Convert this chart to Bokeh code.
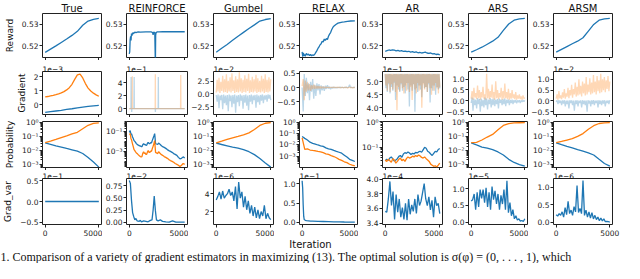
import numpy as np
from bokeh.plotting import figure
from bokeh.layouts import gridplot, column
from bokeh.models import Range1d, FixedTicker, Label
from bokeh.embed import file_html
from bokeh.resources import INLINE

BLUE = "#1f77b4"
ORANGE = "#ff7f0e"
FONT = "DejaVu Sans"

METHODS = ["True", "REINFORCE", "Gumbel", "RELAX", "AR", "ARS", "ARSM"]
ROW_LABELS = ["Reward", "Gradient", "Probability", "Grad_var"]
X_TICKS = [0, 5000]
X_TICK_LABELS = ["0", "5000"]

# ---------------- Row 1: reward ----------------
TRUE_REWARD = [0.5170, 0.5185, 0.5200, 0.5216, 0.5232, 0.5249, 0.5268, 0.5296, 0.5316, 0.5324, 0.5328]
REINF_REWARD_X = [0, 40, 80, 120, 160, 200, 250, 300, 350, 400, 450, 500, 600, 800, 1000, 1500, 2000, 2100,
                  2150, 2200, 2300, 2340, 2360, 2380, 2420, 2500, 2700, 3000, 4000, 5000]
REINF_REWARD_Y = [0.5163, 0.5172, 0.5230, 0.5245, 0.5225, 0.5258, 0.5248, 0.5262, 0.5255, 0.5263, 0.5259, 0.5264,
                  0.5262, 0.5265, 0.5264, 0.5265, 0.5265, 0.5262, 0.5252, 0.5264, 0.5262, 0.5150, 0.5140, 0.5250,
                  0.5262, 0.5265, 0.5265, 0.5266, 0.5266, 0.5266]
GUMBEL_REWARD = [0.5170, 0.5189, 0.5207, 0.5226, 0.5245, 0.5263, 0.5281, 0.5298, 0.5316, 0.5323, 0.5327]
RELAX_REWARD_X = [0, 60, 120, 180, 240, 300, 400, 500, 600, 700, 800, 900, 1000, 1100, 1200, 1300, 1400, 1500,
                  1600, 1700, 1800, 1900, 2000, 2100, 2200, 2300, 2400, 2500, 2600, 2700, 2800, 2900, 3000, 3200,
                  3400, 3600, 3800, 4000, 4300, 4600, 5000]
RELAX_REWARD_Y = [0.5172, 0.5150, 0.5168, 0.5155, 0.5160, 0.5152, 0.5165, 0.5158, 0.5162, 0.5155, 0.5160, 0.5154,
                  0.5158, 0.5156, 0.5162, 0.5170, 0.5178, 0.5188, 0.5195, 0.5205, 0.5210, 0.5222, 0.5218, 0.5232,
                  0.5226, 0.5234, 0.5230, 0.5245, 0.5255, 0.5262, 0.5275, 0.5285, 0.5292, 0.5300, 0.5306, 0.5309,
                  0.5311, 0.5312, 0.5314, 0.5316, 0.5317]
AR_REWARD = [0.5175, 0.5178, 0.5181, 0.5179, 0.5182, 0.5180, 0.5177, 0.5179, 0.5176, 0.5178, 0.5174, 0.5176,
             0.5173, 0.5175, 0.5171, 0.5173, 0.5170, 0.5172, 0.5168, 0.5170, 0.5167, 0.5169, 0.5171, 0.5167,
             0.5165, 0.5167, 0.5163, 0.5164, 0.5160, 0.5162, 0.5158]
ARS_REWARD = [0.5171, 0.5182, 0.5194, 0.5208, 0.5222, 0.5240, 0.5272, 0.5302, 0.5320, 0.5326, 0.5328]
ARSM_REWARD = [0.5171, 0.5184, 0.5197, 0.5210, 0.5222, 0.5238, 0.5269, 0.5300, 0.5320, 0.5326, 0.5328]

# ---------------- Row 2: gradient ----------------
TRUE_GRAD_BLUE = [-0.55, -0.50, -0.45, -0.40, -0.34, -0.29, -0.23, -0.17, -0.12, -0.08, -0.05]
TRUE_GRAD_ORANGE = [0.55, 0.58, 0.62, 0.66, 0.71, 0.77, 0.84, 0.93, 1.05, 1.21, 1.45, 1.80, 2.12, 2.18, 1.90,
                    1.50, 1.18, 0.97, 0.82, 0.70, 0.60]
REINF_GRAD_BLUE_X = [0, 150, 165, 180, 205, 220, 235, 425, 440, 455, 2340, 2355, 2370, 2605, 2620, 2635, 5000]
REINF_GRAD_BLUE_Y = [0, 0, 4.9, 0, 0, -0.5, 0, 0, 4.9, 0, 0, -0.5, 0, 0, 4.9, 0, 0]
REINF_GRAD_ORANGE_X = [0, 260, 275, 290, 2335, 2350, 2365, 4625, 4640, 4655, 5000]
REINF_GRAD_ORANGE_Y = [0, 0, 5.0, 0, 0, 5.3, 0, 0, 5.2, 0, 0]
GUMBEL_GRAD_BLUE = [-0.2, -1.5, -0.1, -2.8, -0.3, -1.2, -0.2, -3.0, -0.1, -1.8, -0.3, -2.2, -0.2, -3.4, -0.1,
                    -1.4, -0.3, -2.6, -0.2, -1.9, -0.1, -3.7, -0.3, -1.6, -0.2, -2.4, -0.1, -1.3, -0.3, -2.9,
                    -0.2, -1.7, -0.1, -2.3, -0.3, -3.2, -0.2, -1.5, -0.1, -2.0, -0.3, -1.2, -0.2, -2.7, -0.1,
                    -1.6, -0.3, -2.1, -0.2, -1.3, -0.1, -1.8, -0.3, -1.1, -0.2, -1.5, -0.1, -0.9, -0.2, -1.2]
GUMBEL_GRAD_ORANGE = [0.3, 2.8, 0.5, 3.2, 0.2, 2.4, 0.6, 3.6, 0.3, 2.9, 0.4, 3.9, 0.2, 2.6, 0.5, 3.3, 0.3, 4.1,
                      0.6, 2.7, 0.2, 3.5, 0.4, 2.9, 0.3, 4.3, 0.5, 3.1, 0.2, 2.8, 0.4, 3.7, 0.3, 3.0, 0.6, 4.0,
                      0.2, 2.7, 0.4, 3.4, 0.3, 2.9, 0.5, 3.8, 0.2, 3.1, 0.4, 2.6, 0.3, 3.6, 0.5, 3.0, 0.2, 3.9,
                      0.4, 2.8, 0.3, 3.3, 0.5, 2.9]
RELAX_GRAD_BLUE = [0.0, -0.85, 0.48, -0.30, 0.35, -0.20, 0.15, -0.45, 0.20, -0.15, 0.30, -0.40, 0.10, -0.30,
                   0.15, -0.10, 0.12, -0.25, 0.08, -0.10, 0.05, -0.12, 0.06, -0.05, 0.08, -0.04, 0.03, -0.06,
                   0.02, -0.03, 0.02, -0.02, 0.01, -0.02, 0.01, -0.01, 0.02, -0.01, 0.01, -0.01, 0.01, -0.01,
                   0.02, -0.01, 0.01, 0.10, -0.01, 0.01, -0.01, 0.01, 0.0]
RELAX_GRAD_ORANGE = [0.05, 0.30, -0.45, 0.25, -0.15, 0.20, -0.10, 0.12, -0.12, 0.08, -0.06, 0.10, -0.05, 0.06,
                     -0.04, 0.05, -0.03, 0.04, -0.03, 0.03, -0.02, 0.02, -0.02, 0.02, -0.01, 0.01, -0.01, 0.01,
                     -0.01, 0.01, 0.0, 0.01, -0.01, 0.01, 0.0, 0.01, -0.01, 0.0, 0.01, -0.01, 0.0, 0.01, 0.0,
                     -0.01, 0.0, 0.01, 0.0, 0.0, -0.01, 0.0, 0.0]
AR_GRAD_BLUE = [5.30, 4.75, 5.28, 4.60, 5.30, 4.90, 5.29, 4.55, 5.30, 4.80, 5.27, 4.65, 5.30, 4.95, 5.29, 4.30,
                5.30, 4.85, 5.28, 4.70, 5.30, 4.60, 5.29, 4.90, 5.30, 4.65, 5.28, 4.80, 5.30, 4.55, 5.29, 4.95,
                5.30, 4.70, 5.28, 4.05, 5.30, 4.85, 5.29, 4.65, 5.30, 4.90, 5.28, 3.85, 5.30, 4.75, 5.29, 4.60,
                5.30, 4.85, 5.28, 4.70, 5.30, 4.40, 5.29, 4.95, 5.30, 4.75, 5.28, 4.80, 5.30, 4.60, 5.29, 4.90,
                5.30, 4.20, 5.28, 4.75, 5.30, 4.65, 5.29, 4.85, 5.30, 4.50, 5.28, 4.80, 5.30, 4.70, 5.29, 4.75]
AR_GRAD_ORANGE = [5.29, 4.85, 5.30, 4.65, 5.28, 4.95, 5.30, 4.60, 5.29, 4.90, 5.30, 4.70, 5.28, 5.00, 5.30, 4.60,
                  5.29, 3.90, 5.30, 4.80, 5.28, 4.65, 5.30, 4.95, 5.29, 4.75, 5.30, 4.55, 5.28, 4.85, 5.30, 4.65,
                  5.29, 4.95, 5.30, 4.60, 5.28, 4.80, 5.30, 4.30, 5.29, 4.90, 5.30, 4.70, 5.28, 4.55, 5.30, 4.95,
                  5.29, 4.65, 5.30, 4.85, 5.28, 4.00, 5.30, 4.90, 5.29, 4.70, 5.30, 4.80, 5.28, 4.60, 5.30, 4.95,
                  5.29, 4.75, 5.30, 4.50, 5.28, 4.85, 5.30, 4.65, 5.29, 4.95, 5.30, 4.75, 5.28, 4.55, 5.30, 4.80]
ARS_GRAD_BLUE = [-0.10, 0.15, -0.45, 0.10, -0.20, 0.05, -0.35, 0.12, -0.15, 0.08, -0.50, 0.10, -0.25, 0.05,
                 -0.30, 0.15, -0.20, 0.10, -0.40, 0.05, -0.15, 0.12, -0.30, 0.08, -0.20, 0.10, -0.25, 0.05,
                 -0.15, 0.08, -0.35, 0.10, -0.10, 0.05, -0.20, 0.08, -0.15, 0.10, -0.25, 0.05, -0.10, 0.06,
                 -0.20, 0.04, -0.10, 0.05, -0.15, 0.03, -0.08, 0.04, -0.12, 0.02, -0.06, 0.03, -0.10, 0.02,
                 -0.05, 0.03, -0.04, 0.02]
ARS_GRAD_ORANGE = [0.10, 0.45, 0.05, 0.60, 0.15, 0.35, 0.08, 0.70, 0.12, 0.50, 0.05, 0.40, 0.15, 0.65, 0.10,
                   0.30, 0.05, 1.25, 0.12, 0.55, 0.08, 0.45, 0.15, 0.75, 0.10, 0.40, 0.05, 0.90, 0.12, 0.50,
                   0.08, 0.35, 0.15, 0.60, 0.05, 0.45, 0.10, 0.80, 0.12, 0.40, 0.08, 0.55, 0.05, 0.35, 0.10,
                   0.50, 0.12, 0.30, 0.08, 0.40, 0.05, 0.25, 0.10, 0.30, 0.08, 0.20, 0.05, 0.25, 0.10, 0.15]
ARSM_GRAD_BLUE = [-0.05, 0.02, -0.15, 0.03, -0.10, 0.01, -0.20, 0.02, -0.12, 0.03, -0.25, 0.01, -0.15, 0.02,
                  -0.35, 0.03, -0.10, 0.02, -0.20, 0.01, -0.45, 0.02, -0.15, 0.03, -0.25, 0.01, -0.10, 0.02,
                  -0.30, 0.03, -0.15, 0.01, -0.20, 0.02, -0.50, 0.03, -0.12, 0.01, -0.25, 0.02, -0.15, 0.03,
                  -0.20, 0.01, -0.10, 0.02, -0.30, 0.03, -0.15, 0.01, -0.20, 0.02, -0.12, 0.03, -0.25, 0.01,
                  -0.10, 0.02, -0.15, 0.03]
ARSM_GRAD_ORANGE = [0.10, 0.30, 0.05, 0.45, 0.12, 0.25, 0.08, 0.40, 0.15, 0.55, 0.10, 0.35, 0.20, 0.60, 0.12,
                    0.50, 0.25, 0.75, 0.15, 0.55, 0.30, 0.85, 0.20, 0.65, 0.25, 1.00, 0.30, 0.70, 0.20, 0.90,
                    0.35, 0.80, 0.25, 1.10, 0.30, 0.75, 0.40, 1.05, 0.30, 0.85, 0.35, 1.20, 0.40, 0.90, 0.30,
                    1.15, 0.45, 0.95, 0.35, 1.25, 0.40, 1.00, 0.50, 1.10, 0.40, 0.95, 0.55, 1.15, 0.45, 0.90]

# ---------------- Row 3: probability ----------------
TRUE_PROB_BLUE = [0.034, 0.027, 0.021, 0.017, 0.0135, 0.0108, 0.0085, 0.0058, 0.0030, 0.0014, 0.0006]
TRUE_PROB_ORANGE = [0.035, 0.046, 0.061, 0.082, 0.11, 0.15, 0.20, 0.36, 0.64, 0.88, 0.97]
REINF_PROB_X = [0, 86, 150, 200, 286, 360, 430, 500, 570, 640, 710, 780, 860, 930, 1000, 1070, 1140, 1210,
                1290, 1360, 1430, 1500, 1570, 1640, 1710, 1790, 1860, 1930, 2000, 2070, 2140, 2220, 2290, 2330,
                2370, 2450, 2570, 2640, 2710, 2790, 2860, 2930, 3000, 3150, 3290, 3430, 3570, 3710, 3860, 4000,
                4140, 4290, 4430, 4570, 4710, 4860, 5000]
REINF_PROB_BLUE = [0.08, 0.12, 0.05, 0.06, 0.03, 0.02, 0.012, 0.010, 0.008, 0.006, 0.005, 0.0045, 0.004, 0.0036,
                   0.0035, 0.003, 0.003, 0.0045, 0.006, 0.0048, 0.005, 0.0042, 0.004, 0.0065, 0.008, 0.006,
                   0.006, 0.0075, 0.007, 0.012, 0.02, 0.035, 0.06, 0.02, 0.006, 0.0055, 0.005, 0.007, 0.006,
                   0.005, 0.004, 0.0035, 0.003, 0.0025, 0.002, 0.0015, 0.0012, 0.001, 0.0008, 0.0006, 0.0005,
                   0.0004, 0.00025, 0.00018, 0.0002, 0.00028, 0.00022]
REINF_PROB_ORANGE = [0.05, 0.06, 0.02, 0.015, 0.006, 0.003, 0.0015, 0.0012, 0.0009, 0.0007, 0.0006, 0.0005,
                     0.0004, 0.00035, 0.0003, 0.00028, 0.0003, 0.0006, 0.0009, 0.0006, 0.0007, 0.0005, 0.0005,
                     0.0009, 0.0012, 0.0008, 0.0008, 0.0011, 0.001, 0.0018, 0.003, 0.006, 0.012, 0.003, 0.0008,
                     0.0007, 0.0006, 0.0009, 0.0008, 0.0006, 0.0005, 0.00045, 0.0004, 0.0003, 0.00025, 0.0002,
                     0.00015, 0.00012, 0.0001, 0.00008, 0.00006, 0.00005, 0.00004, 0.00003, 0.00004, 0.00006,
                     0.00005]
GUMBEL_PROB_BLUE = [0.033, 0.026, 0.021, 0.017, 0.014, 0.011, 0.0078, 0.0048, 0.0025, 0.0012, 0.0006]
GUMBEL_PROB_ORANGE = [0.034, 0.045, 0.06, 0.078, 0.10, 0.13, 0.18, 0.32, 0.62, 0.90, 0.98]
RELAX_PROB_BLUE = [0.06, 0.04, 0.028, 0.018, 0.014, 0.012, 0.010, 0.0085, 0.0075, 0.0055, 0.0045, 0.004, 0.0032,
                   0.0026, 0.0022, 0.0018, 0.0012, 0.0008, 0.0005, 0.0004, 0.00032]
RELAX_PROB_ORANGE = [0.045, 0.004, 0.0045, 0.0035, 0.0032, 0.003, 0.0026, 0.0024, 0.002, 0.0016, 0.0014, 0.0011,
                     0.0009, 0.0007, 0.0005, 0.0004, 0.0003, 0.00025, 0.00018, 0.00015, 0.00013]
AR_PROB_BLUE = [0.030, 0.034, 0.031, 0.038, 0.042, 0.035, 0.029, 0.032, 0.036, 0.044, 0.048, 0.041, 0.055,
                0.062, 0.058, 0.066, 0.060, 0.052, 0.058, 0.055, 0.063, 0.060, 0.066, 0.070, 0.064, 0.080,
                0.100, 0.092, 0.070, 0.064, 0.055, 0.048, 0.058, 0.070, 0.066, 0.082, 0.090]
AR_PROB_ORANGE = [0.032, 0.028, 0.034, 0.030, 0.026, 0.036, 0.032, 0.024, 0.028, 0.034, 0.038, 0.030, 0.034,
                  0.028, 0.036, 0.042, 0.038, 0.040, 0.045, 0.042, 0.048, 0.044, 0.050, 0.046, 0.040, 0.038,
                  0.042, 0.036, 0.032, 0.028, 0.022, 0.020, 0.018, 0.019, 0.017, 0.020, 0.024]
ARS_PROB_BLUE = [0.034, 0.024, 0.017, 0.014, 0.011, 0.0075, 0.0045, 0.0022, 0.0013, 0.0009, 0.0007]
ARS_PROB_ORANGE = [0.035, 0.037, 0.055, 0.09, 0.14, 0.30, 0.62, 0.85, 0.95, 0.98, 0.99]
ARSM_PROB_BLUE = [0.034, 0.025, 0.019, 0.015, 0.011, 0.0085, 0.0065, 0.0045, 0.0022, 0.0011, 0.0007]
ARSM_PROB_ORANGE = [0.035, 0.043, 0.055, 0.07, 0.10, 0.16, 0.33, 0.60, 0.86, 0.96, 0.99]

# ---------------- Row 4: gradient variance ----------------
TRUE_VAR = [0.0, 0.0, 0.0]
REINF_VAR_X = [0, 100, 200, 300, 400, 500, 600, 700, 900, 1000, 1100, 1300, 1500, 1700, 1900, 2050, 2150, 2250,
               2350, 2450, 2600, 2800, 3000, 3300, 3600, 3900, 4200, 4500, 5000]
REINF_VAR_Y = [0.86, 0.80, 0.45, 0.20, 0.12, 0.05, 0.08, 0.03, 0.02, 0.04, 0.01, 0.03, 0.02, 0.01, 0.04, 0.05,
               0.25, 0.54, 0.25, 0.05, 0.03, 0.05, 0.02, 0.01, 0.005, 0.03, 0.003, 0.003, 0.002]
GUMBEL_VAR = [3.3, 3.7, 4.2, 3.4, 4.3, 3.5, 3.8, 4.0, 4.5, 3.8, 4.2, 3.2, 4.8, 2.3, 5.3, 3.5, 4.2, 2.5, 3.7, 2.2,
              3.2, 1.8, 2.7, 1.5, 2.5, 1.3, 2.2, 1.2, 2.0, 1.5, 2.7, 1.2, 1.8, 1.3, 1.1]
RELAX_VAR_X = [0, 50, 100, 150, 200, 300, 400, 600, 800, 1000, 1500, 2000, 2500, 3000, 3500, 4000, 4500, 5000]
RELAX_VAR_Y = [1.08, 0.90, 0.45, 0.15, 0.07, 0.05, 0.04, 0.035, 0.03, 0.028, 0.022, 0.018, 0.014, 0.010, 0.008,
               0.005, 0.003, 0.001]
AR_VAR = [3.56, 3.55, 3.73, 3.97, 3.64, 3.83, 3.45, 3.79, 3.55, 3.73, 3.48, 3.61, 3.45, 3.67, 3.44, 3.73, 3.52,
          3.65, 3.56, 3.73, 3.53, 3.79, 3.64, 3.70, 3.82, 3.94, 3.73, 3.64, 3.76, 3.58, 3.71, 3.48, 3.76, 3.64,
          3.67, 3.53]
ARS_VAR = [0.63, 0.67, 0.84, 0.37, 0.89, 0.45, 0.97, 0.71, 0.97, 0.58, 1.02, 0.45, 0.89, 0.37, 1.06, 0.67, 0.93,
           0.54, 0.84, 0.37, 0.80, 0.54, 0.97, 0.37, 1.23, 0.28, 0.58, 0.19, 0.37, 0.10, 0.19, 0.06, 0.10, 0.03,
           0.05, 0.02, 0.10]
ARSM_VAR = [0.22, 0.18, 0.25, 0.20, 0.30, 0.15, 0.42, 0.22, 0.60, 0.25, 0.35, 0.20, 0.45, 0.30, 1.05, 0.28, 0.40,
            0.25, 1.19, 0.20, 0.35, 0.15, 0.30, 0.12, 0.28, 0.10, 0.20, 0.08, 0.15, 0.05, 0.12, 0.04, 0.10, 0.02,
            0.03, 0.02, 0.01]

CAPTION = ("1. Comparison of a variety of gradient estimators in maximizing (13). "
           "The optimal solution is \u03c3(\u03c6) = (0, . . . , 1), which")


def xs(y):
    return np.linspace(0, 5000, len(y))


def log_labels(ticks):
    sup = {0: "\u2070", 1: "\u00b9", 2: "\u00b2", 3: "\u00b3", 4: "\u2074"}
    out = []
    for t in ticks:
        e = int(round(-np.log10(t)))
        out.append("10" + ("\u207b" if e > 0 else "") + sup[e])
    return out


LOG_ALL = [1.0, 0.1, 0.01, 0.001]

# panel specs: (yrange, ticks, labels, offset text, series, log?)
SPECS = [
    [  # reward row
        ((0.5146, 0.5351), [0.52, 0.53], ["0.52", "0.53"], None,
         [(xs(TRUE_REWARD), TRUE_REWARD, BLUE, 1.0)], False),
        ((0.5146, 0.5351), [0.52, 0.53], ["0.52", "0.53"], None,
         [(REINF_REWARD_X, REINF_REWARD_Y, BLUE, 1.0)], False),
        ((0.5146, 0.5351), [0.52, 0.53], ["0.52", "0.53"], None,
         [(xs(GUMBEL_REWARD), GUMBEL_REWARD, BLUE, 1.0)], False),
        ((0.5146, 0.5351), [0.52, 0.53], ["0.52", "0.53"], None,
         [(RELAX_REWARD_X, RELAX_REWARD_Y, BLUE, 1.0)], False),
        ((0.5146, 0.5351), [0.52, 0.53], ["0.52", "0.53"], None,
         [(xs(AR_REWARD), AR_REWARD, BLUE, 1.0)], False),
        ((0.5146, 0.5351), [0.52, 0.53], ["0.52", "0.53"], None,
         [(xs(ARS_REWARD), ARS_REWARD, BLUE, 1.0)], False),
        ((0.5146, 0.5351), [0.52, 0.53], ["0.52", "0.53"], None,
         [(xs(ARSM_REWARD), ARSM_REWARD, BLUE, 1.0)], False),
    ],
    [  # gradient row
        ((-0.70, 2.36), [0, 1, 2], ["0", "1", "2"], "1e\u22123",
         [(xs(TRUE_GRAD_BLUE), TRUE_GRAD_BLUE, BLUE, 1.0),
          (xs(TRUE_GRAD_ORANGE), TRUE_GRAD_ORANGE, ORANGE, 1.0)], False),
        ((-0.91, 5.74), [0, 2, 4], ["0", "2", "4"], "1e\u22121",
         [(REINF_GRAD_BLUE_X, REINF_GRAD_BLUE_Y, BLUE, 0.3),
          (REINF_GRAD_ORANGE_X, REINF_GRAD_ORANGE_Y, ORANGE, 0.3)], False),
        ((-4.06, 4.44), [-2.5, 0, 2.5], ["\u22122.5", "0.0", "2.5"], "1e\u22122",
         [(xs(GUMBEL_GRAD_BLUE), GUMBEL_GRAD_BLUE, BLUE, 0.3),
          (xs(GUMBEL_GRAD_ORANGE), GUMBEL_GRAD_ORANGE, ORANGE, 0.3)], False),
        ((-0.96, 0.57), [-0.5, 0, 0.5], ["\u22120.5", "0.0", "0.5"], " ",
         [(xs(RELAX_GRAD_BLUE), RELAX_GRAD_BLUE, BLUE, 0.3),
          (xs(RELAX_GRAD_ORANGE), RELAX_GRAD_ORANGE, ORANGE, 0.3)], False),
        ((3.74, 5.39), [4.0, 4.5, 5.0], ["4.0", "4.5", "5.0"], "1e\u22121",
         [(xs(AR_GRAD_BLUE), AR_GRAD_BLUE, BLUE, 0.3),
          (xs(AR_GRAD_ORANGE), AR_GRAD_ORANGE, ORANGE, 0.3)], False),
        ((-0.63, 1.35), [-0.5, 0, 0.5, 1.0], ["\u22120.5", "0.0", "0.5", "1.0"], "1e\u22121",
         [(xs(ARS_GRAD_BLUE), ARS_GRAD_BLUE, BLUE, 0.3),
          (xs(ARS_GRAD_ORANGE), ARS_GRAD_ORANGE, ORANGE, 0.3)], False),
        ((-0.63, 1.36), [-0.5, 0, 0.5, 1.0], ["\u22120.5", "0.0", "0.5", "1.0"], "1e\u22122",
         [(xs(ARSM_GRAD_BLUE), ARSM_GRAD_BLUE, BLUE, 0.3),
          (xs(ARSM_GRAD_ORANGE), ARSM_GRAD_ORANGE, ORANGE, 0.3)], False),
    ],
    [  # probability row
        ((10 ** -3.25, 10 ** 0.08), LOG_ALL, log_labels(LOG_ALL), None,
         [(xs(TRUE_PROB_BLUE), TRUE_PROB_BLUE, BLUE, 1.0),
          (xs(TRUE_PROB_ORANGE), TRUE_PROB_ORANGE, ORANGE, 1.0)], True),
        ((10 ** -4.62, 10 ** 0.0), [0.1, 0.001], log_labels([0.1, 0.001]), None,
         [(REINF_PROB_X, REINF_PROB_BLUE, BLUE, 1.0),
          (REINF_PROB_X, REINF_PROB_ORANGE, ORANGE, 1.0)], True),
        ((10 ** -3.25, 10 ** 0.08), LOG_ALL, log_labels(LOG_ALL), None,
         [(xs(GUMBEL_PROB_BLUE), GUMBEL_PROB_BLUE, BLUE, 1.0),
          (xs(GUMBEL_PROB_ORANGE), GUMBEL_PROB_ORANGE, ORANGE, 1.0)], True),
        ((10 ** -4.04, 10 ** 0.13), LOG_ALL, log_labels(LOG_ALL), None,
         [(xs(RELAX_PROB_BLUE), RELAX_PROB_BLUE, BLUE, 1.0),
          (xs(RELAX_PROB_ORANGE), RELAX_PROB_ORANGE, ORANGE, 1.0)], True),
        ((10 ** -1.79, 10 ** 0.01), [1.0, 0.1], log_labels([1.0, 0.1]), None,
         [(xs(AR_PROB_BLUE), AR_PROB_BLUE, BLUE, 1.0),
          (xs(AR_PROB_ORANGE), AR_PROB_ORANGE, ORANGE, 1.0)], True),
        ((10 ** -3.25, 10 ** 0.08), LOG_ALL, log_labels(LOG_ALL), None,
         [(xs(ARS_PROB_BLUE), ARS_PROB_BLUE, BLUE, 1.0),
          (xs(ARS_PROB_ORANGE), ARS_PROB_ORANGE, ORANGE, 1.0)], True),
        ((10 ** -3.25, 10 ** 0.08), LOG_ALL, log_labels(LOG_ALL), None,
         [(xs(ARSM_PROB_BLUE), ARSM_PROB_BLUE, BLUE, 1.0),
          (xs(ARSM_PROB_ORANGE), ARSM_PROB_ORANGE, ORANGE, 1.0)], True),
    ],
    [  # grad var row
        ((-0.55, 0.55), [-0.5, 0, 0.5], ["\u22120.5", "0.0", "0.5"], "1e\u22121",
         [(xs(TRUE_VAR), TRUE_VAR, BLUE, 1.0)], False),
        ((-0.045, 0.90), [0, 0.25, 0.5, 0.75], ["0.00", "0.25", "0.50", "0.75"], "1e\u22122",
         [(REINF_VAR_X, REINF_VAR_Y, BLUE, 1.0)], False),
        ((0.55, 5.7), [2, 4], ["2", "4"], "1e\u22126",
         [(xs(GUMBEL_VAR), GUMBEL_VAR, BLUE, 1.0)], False),
        ((-0.06, 1.14), [0, 0.5, 1.0], ["0.0", "0.5", "1.0"], "1e\u22121",
         [(RELAX_VAR_X, RELAX_VAR_Y, BLUE, 1.0)], False),
        ((3.38, 4.01), [3.4, 3.6, 3.8, 4.0], ["3.4", "3.6", "3.8", "4.0"], "1e\u22124",
         [(xs(AR_VAR), AR_VAR, BLUE, 1.0)], False),
        ((-0.07, 1.30), [0, 0.5, 1.0], ["0.0", "0.5", "1.0"], "1e\u22125",
         [(xs(ARS_VAR), ARS_VAR, BLUE, 1.0)], False),
        ((-0.06, 1.25), [0, 0.5, 1.0], ["0.0", "0.5", "1.0"], "1e\u22126",
         [(xs(ARSM_VAR), ARSM_VAR, BLUE, 1.0)], False),
    ],
]

LB = [40, 24, 24, 22, 23, 23, 23]
RB = [1, 1, 1, 1, 1, 1, 12]
FRAME_W = 61
ROW_H = [60, 57, 53, 68]
TB = [1, 1, 4, 1]
BB = [3, 3, 3, 13]
TOTAL_W = 624
TOTAL_H = 263

MINOR_LOG = [m * 10.0 ** e for e in range(-6, 1) for m in range(2, 10)]

rows = []
for r in range(4):
    row = []
    for c in range(7):
        yr, ticks, labels, offset, series, is_log = SPECS[r][c]
        if r == 0:
            title = METHODS[c]
        elif offset is not None:
            title = offset
        else:
            title = None
        p = figure(width=LB[c] + FRAME_W + RB[c], height=ROW_H[r],
                   x_range=Range1d(-250, 5250), y_range=Range1d(*yr),
                   y_axis_type="log" if is_log else "linear",
                   output_backend="svg", toolbar_location=None, title=title,
                   min_border_left=LB[c], min_border_right=RB[c],
                   min_border_top=TB[r], min_border_bottom=BB[r])
        if title is not None:
            p.title.text_font = FONT
            p.title.text_font_style = "normal"
            p.title.text_color = "#111111"
            if r == 0:
                p.title.text_font_size = "10px"
                p.title.align = "center"
                p.title.standoff = 0
            else:
                p.title.text_font_size = "7.5px"
                p.title.align = "left"
                p.title.standoff = 0
        p.background_fill_color = "white"
        p.border_fill_color = "white"
        p.outline_line_color = "#222222"
        p.outline_line_width = 1
        p.xgrid.visible = False
        p.ygrid.visible = False
        for ax in (p.xaxis[0], p.yaxis[0]):
            ax.axis_line_color = None
            ax.major_tick_out = 3
            ax.major_tick_in = 0
            ax.major_tick_line_color = "#222222"
            ax.major_label_text_font = FONT
            ax.major_label_text_font_size = "7.5px"
            ax.major_label_text_color = "#222222"
        xa = p.xaxis[0]
        xa.ticker = FixedTicker(ticks=X_TICKS)
        xa.minor_tick_line_color = None
        if r == 3:
            xa.major_label_overrides = dict(zip([float(t) for t in X_TICKS], X_TICK_LABELS))
            xa.major_label_standoff = 2
        else:
            xa.major_label_overrides = {float(t): "" for t in X_TICKS}
            xa.major_label_text_font_size = "1px"
            xa.major_label_standoff = 0
        ya = p.yaxis[0]
        ya.major_label_standoff = 1
        if is_log:
            ya.ticker = FixedTicker(ticks=ticks, minor_ticks=[m for m in MINOR_LOG if yr[0] <= m <= yr[1]])
            ya.minor_tick_out = 2
            ya.minor_tick_in = 0
            ya.minor_tick_line_color = "#222222"
        else:
            ya.ticker = FixedTicker(ticks=ticks)
            ya.minor_tick_line_color = None
        ya.major_label_overrides = dict(zip([float(t) for t in ticks], labels))
        if c == 0:
            ya.axis_label = ROW_LABELS[r]
            ya.axis_label_text_font = FONT
            ya.axis_label_text_font_size = "9px"
            ya.axis_label_text_font_style = "normal"
            ya.axis_label_text_color = "#111111"
            ya.axis_label_standoff = 4
        for (sx, sy, color, alpha) in series:
            p.line(list(sx), list(sy), line_color=color, line_alpha=alpha, line_width=1.3)
        row.append(p)
    rows.append(row)

grid = gridplot(rows, toolbar_location=None)

FOOT_H = TOTAL_H - sum(ROW_H)
foot = figure(width=TOTAL_W, height=FOOT_H, x_range=Range1d(0, 1), y_range=Range1d(0, 1),
              x_axis_type=None, y_axis_type=None, output_backend="svg", toolbar_location=None,
              min_border_left=0, min_border_right=0, min_border_top=0, min_border_bottom=0)
foot.outline_line_color = None
foot.xgrid.visible = False
foot.ygrid.visible = False
foot.add_layout(Label(x=310, y=FOOT_H, x_units="screen", y_units="screen", text="Iteration",
                      text_align="center", text_baseline="top", text_font=FONT,
                      text_font_size="10px", text_color="#111111"))
foot.add_layout(Label(x=0, y=FOOT_H - 11, x_units="screen", y_units="screen", text=CAPTION,
                      text_align="left", text_baseline="top", text_font="Liberation Serif",
                      text_font_size="12px", text_color="#111111"))

layout = column(grid, foot)
open("out.html", "w").write(file_html(layout, INLINE))
